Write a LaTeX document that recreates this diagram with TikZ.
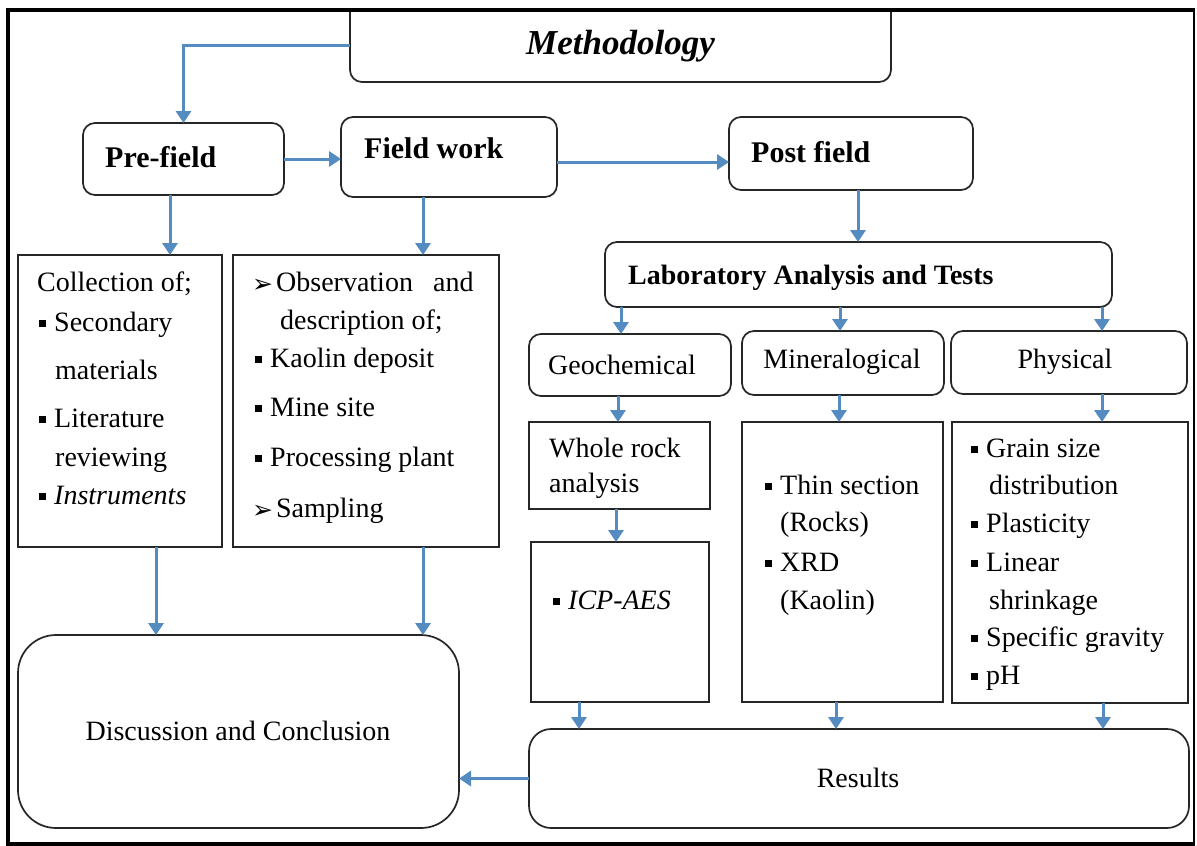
\documentclass[tikz,border=0pt]{standalone}
\usepackage{fontspec}
\setmainfont{Liberation Serif}
\newfontfamily\dvsans{DejaVu Sans}
\usetikzlibrary{arrows.meta}
\definecolor{arrowblue}{RGB}{84,139,193}
\definecolor{boxline}{RGB}{38,38,38}
% square bullet and arrow-head bullet used in the lists
\newcommand\sqbul{\rule[4pt]{7pt}{7pt}\hspace{8pt}}
\newcommand\arbul{\raisebox{-1pt}{\dvsans\fontsize{25}{28}\selectfont\char"27A2}\hspace{3pt}}
\begin{document}
\begin{tikzpicture}[x=1pt,y=-1pt,
  box/.style={draw=boxline, line width=1.7pt, inner sep=0pt, outer sep=0pt},
  rbox/.style={box, rounded corners=12pt},
  arr/.style={draw=arrowblue, line width=3pt, -{Triangle[length=12pt,width=15pt]}},
  txt/.style={font=\fontsize{28}{34}\selectfont, inner sep=0pt, anchor=base west},
  ctxt/.style={font=\fontsize{28}{34}\selectfont, inner sep=0pt},
  btxt/.style={font=\bfseries\fontsize{30}{36}\selectfont, inner sep=0pt, anchor=base west}]
\useasboundingbox (0,0) rectangle (1197,846);
\fill[white] (0,0) rectangle (1197,846);

% ---- boxes ----
\node[minimum width=541pt, minimum height=72.5pt, inner sep=0pt, outer sep=0pt,
      font=\bfseries\itshape\fontsize{35}{40}\selectfont] (meth) at (620.5,45.75) {Methodology};
\draw[draw=boxline, line width=1.7pt, rounded corners=12pt]
  (meth.north west) -- (meth.south west) -- (meth.south east) -- (meth.north east);

\node[rbox, minimum width=201pt, minimum height=72pt] (pre)  at (183.5,159) {};
\node[rbox, minimum width=216pt, minimum height=80pt] (fw)   at (449,157) {};
\node[rbox, minimum width=244pt, minimum height=73pt] (post) at (851,153.5) {};
\node[rbox, minimum width=507pt, minimum height=65pt] (lab)  at (858.5,274.5) {};
\node[rbox, minimum width=202pt, minimum height=62pt] (geo)  at (630,365) {};
\node[rbox, minimum width=202pt, minimum height=64pt] (min)  at (843,363) {};
\node[rbox, minimum width=236pt, minimum height=63pt] (phy)  at (1069,362.5) {};
\node[box, minimum width=181pt, minimum height=87pt]  (whole) at (619.5,465.5) {};
\node[box, minimum width=178pt, minimum height=160pt] (icp)   at (620,622) {};
\node[box, minimum width=201pt, minimum height=280pt] (minc)  at (842.5,562) {};
\node[box, minimum width=236pt, minimum height=281pt] (phyc)  at (1070,562.5) {};
\node[box, rounded corners=22pt, minimum width=660pt, minimum height=99pt] (res) at (859,778.5) {};
\node[box, minimum width=204pt, minimum height=292pt] (coll)  at (120,401) {};
\node[box, minimum width=266pt, minimum height=292pt] (fl)    at (366,401) {};
\node[box, rounded corners=38pt, minimum width=441pt, minimum height=193pt] (disc) at (238.5,731.5) {};

% ---- labels ----
\node[btxt] (tpre)  at (105,167) {Pre-field};
\node[btxt] (tfw)   at (364,158) {Field work};
\node[btxt] (tpost) at (751,162) {Post field};
\node[btxt, font=\bfseries\fontsize{28}{34}\selectfont] (tlab) at (628,284) {Laboratory Analysis and Tests};
\node[ctxt] (tgeo) at (622,365) {Geochemical};
\node[ctxt] (tmin) at (842,362) {Mineralogical};
\node[ctxt] (tphy) at (1065,362) {Physical};

\node[txt] (w1) at (549,457) {Whole rock};
\node[txt] (w2) at (549,492) {analysis};
\node[txt] (i1) at (553,609) {\sqbul\textit{ICP-AES}};

\node[txt] (m1) at (765,494) {\sqbul Thin section};
\node[txt] (m2) at (780,531) {(Rocks)};
\node[txt] (m3) at (765,571) {\sqbul XRD};
\node[txt] (m4) at (780,609) {(Kaolin)};

\node[txt] (p1) at (971,457) {\sqbul Grain size};
\node[txt] (p2) at (989,494) {distribution};
\node[txt] (p3) at (971,532) {\sqbul Plasticity};
\node[txt] (p4) at (971,571) {\sqbul Linear};
\node[txt] (p5) at (989,609) {shrinkage};
\node[txt] (p6) at (971,646) {\sqbul Specific gravity};
\node[txt] (p7) at (971,684) {\sqbul pH};

\node[txt] (c1) at (37,291) {Collection of;};
\node[txt] (c2) at (39,331) {\sqbul Secondary};
\node[txt] (c3) at (55,379) {materials};
\node[txt] (c4) at (39,427) {\sqbul Literature};
\node[txt] (c5) at (55,466) {reviewing};
\node[txt] (c6) at (39,504) {\sqbul\textit{Instruments}};

\node[txt] (f1) at (252,291) {\arbul\makebox[157pt][l]{Observation}and};
\node[txt] (f2) at (280,329) {description of;};
\node[txt] (f3) at (255,367) {\sqbul Kaolin deposit};
\node[txt] (f4) at (255,416) {\sqbul Mine site};
\node[txt] (f5) at (255,466) {\sqbul Processing plant};
\node[txt] (f6) at (252,517) {\arbul Sampling};

\node[ctxt] (tdisc) at (238,731) {Discussion and Conclusion};
\node[ctxt] (tres)  at (858,778) {Results};

% ---- connectors ----
\draw[arr] (meth.west) -| (pre.north);
\draw[arr] (pre.east) -- (pre.east -| fw.west);
\draw[arr] (fw.east |- 0,162) -- (post.west |- 0,162);
\draw[arr] (858,0 |- post.south) -- (858,0 |- lab.north);
\draw[arr] (170,0 |- pre.south) -- (170,0 |- coll.north);
\draw[arr] (423,0 |- fw.south) -- (423,0 |- fl.north);
\draw[arr] (621,0 |- lab.south) -- (621,0 |- geo.north);
\draw[arr] (840,0 |- lab.south) -- (840,0 |- min.north);
\draw[arr] (1102,0 |- lab.south) -- (1102,0 |- phy.north);
\draw[arr] (618,0 |- geo.south) -- (618,0 |- whole.north);
\draw[arr] (839,0 |- min.south) -- (839,0 |- minc.north);
\draw[arr] (1102,0 |- phy.south) -- (1102,0 |- phyc.north);
\draw[arr] (616,0 |- whole.south) -- (616,0 |- icp.north);
\draw[arr] (579,0 |- icp.south) -- (579,0 |- res.north);
\draw[arr] (836,0 |- minc.south) -- (836,0 |- res.north);
\draw[arr] (1103,0 |- phyc.south) -- (1103,0 |- res.north);
\draw[arr] (156,0 |- coll.south) -- (156,0 |- disc.north);
\draw[arr] (423,0 |- fl.south) -- (423,0 |- disc.north);
\draw[arr] (res.west) -- (res.west -| disc.east);

% ---- outer frame ----
\draw[line width=4pt, line join=miter] (1194,9.5) -- (8,9.5) -- (8,844) -- (1194,844);
\draw[line width=2pt] (1194,8) -- (1194,846);
\end{tikzpicture}
\end{document}
